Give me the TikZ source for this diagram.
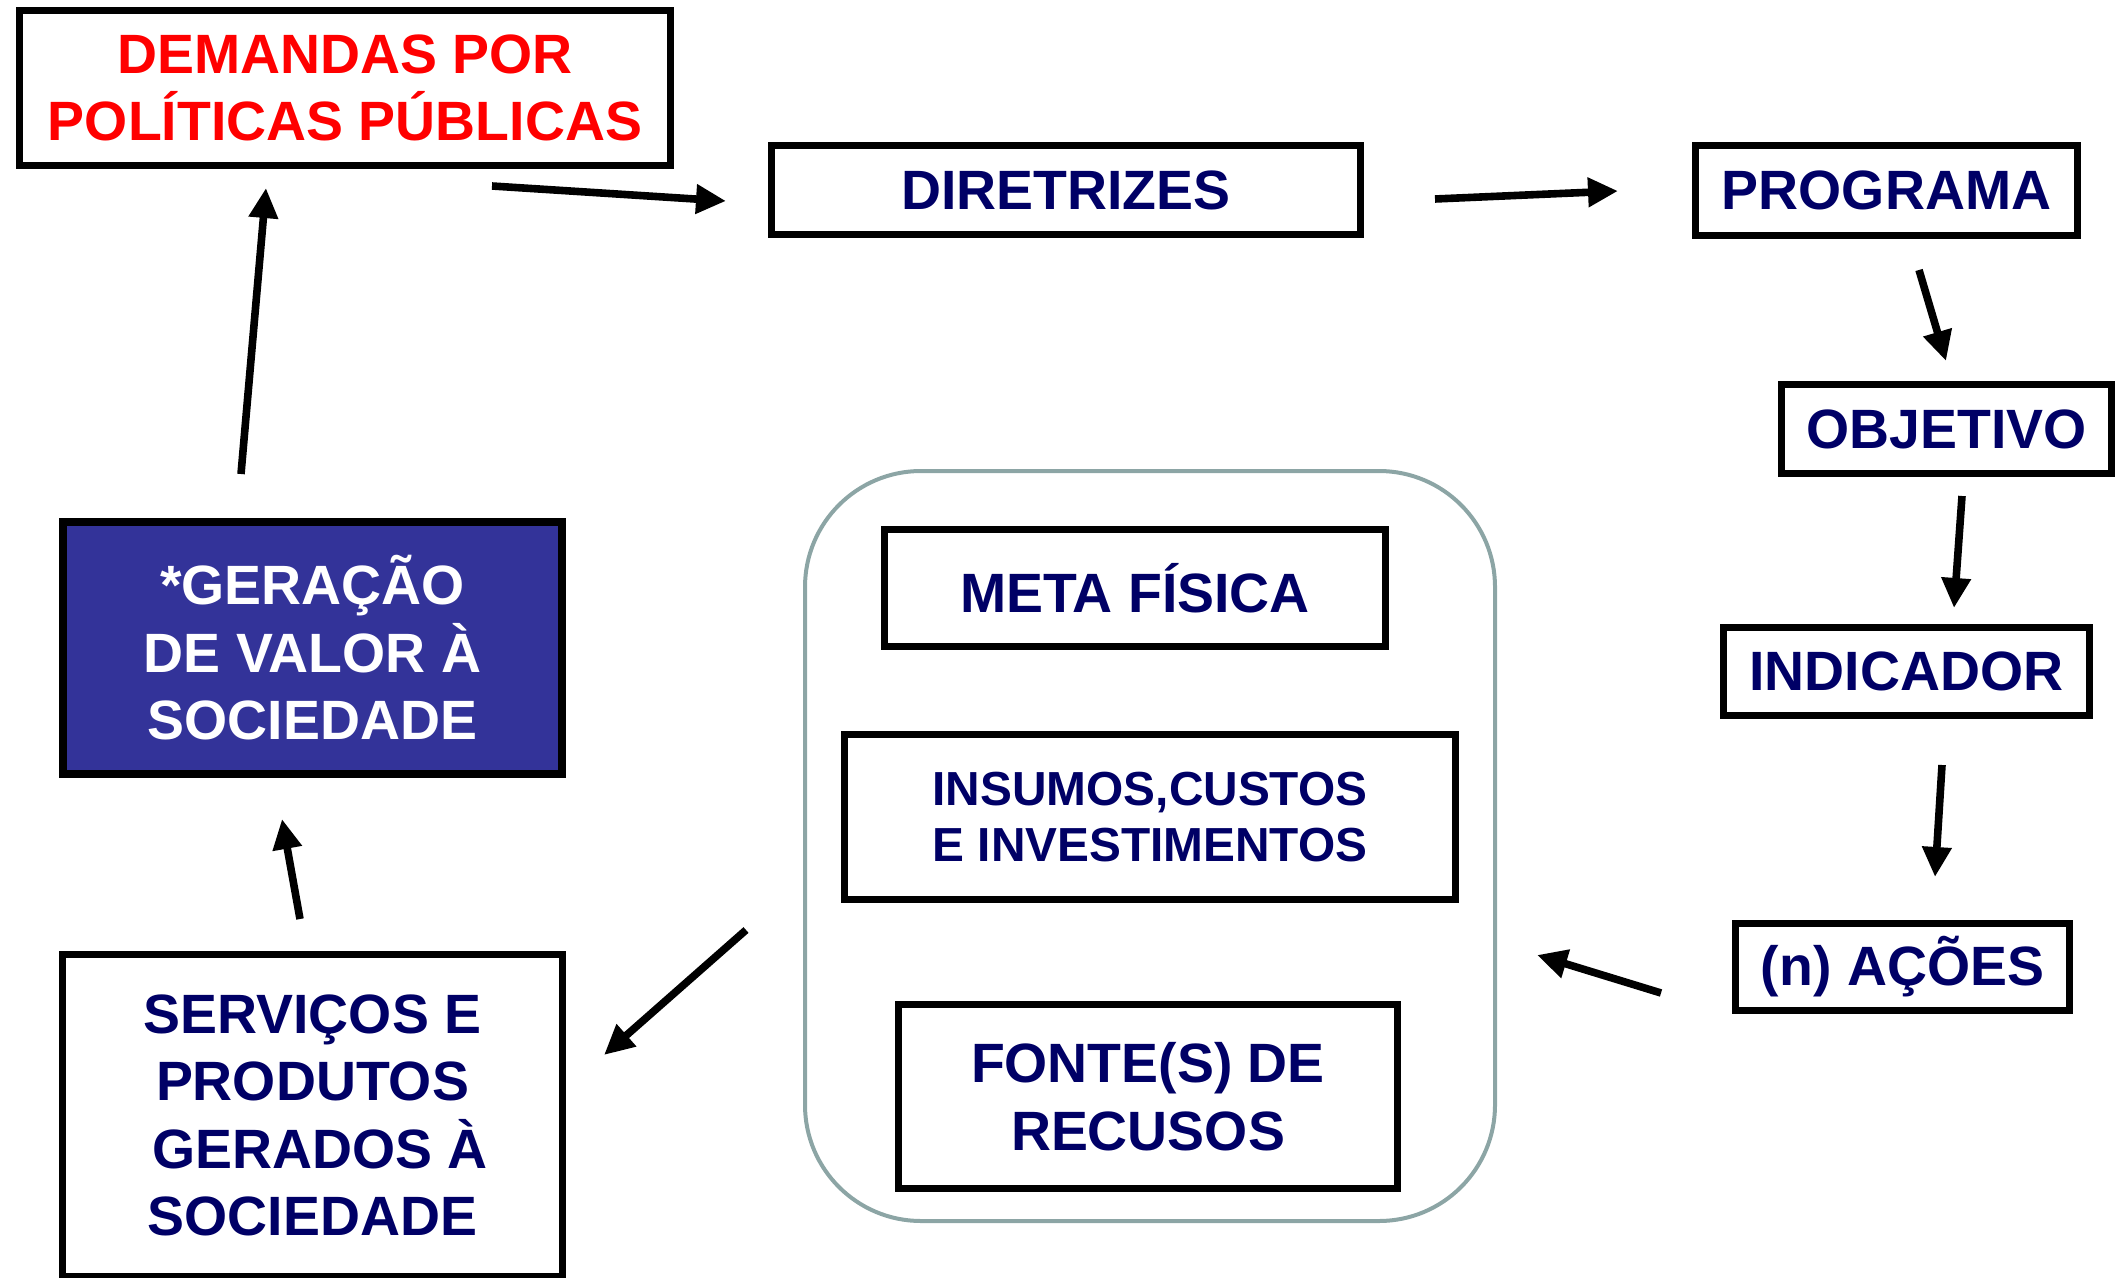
\documentclass[tikz,border=0pt]{standalone}
\usepackage{fontspec}
\setmainfont{Liberation Sans}
\usetikzlibrary{arrows.meta}
\definecolor{navy}{RGB}{0,0,102}
\definecolor{myred}{RGB}{255,0,0}
\definecolor{valblue}{RGB}{51,51,153}
\definecolor{contgray}{RGB}{140,165,165}
\begin{document}
\begin{tikzpicture}[x=0.5pt,y=-0.5pt,
  box/.style={draw=black,line width=3.5pt,inner sep=0pt,align=center,
    font=\bfseries\fontsize{27.7}{33.8}\selectfont,text=navy},
  flow/.style={line width=3.8pt,-{Triangle[length=15pt,width=14pt]}}]
\useasboundingbox (0,0) rectangle (2119,1278);
% container
\node[draw=contgray,line width=2pt,rounded corners=58pt,minimum width=345pt,minimum height=375pt,inner sep=0pt] (cont) at (1150,846) {};
% boxes
\node[box,text=myred,minimum width=325.5pt,minimum height=77.5pt] (dem) at (345,88) {DEMANDAS POR\\POLÍTICAS PÚBLICAS};
\node[box,minimum width=294.5pt,minimum height=44.5pt] (dir) at (1066,190) {DIRETRIZES};
\node[box,minimum width=191pt,minimum height=45pt] (prog) at (1886.5,190.5) {PROGRAMA};
\node[box,minimum width=165pt,minimum height=44.5pt] (obj) at (1946.5,429) {OBJETIVO};
\node[box,minimum width=183pt,minimum height=44pt] (ind) at (1906.5,671.5) {INDICADOR};
\node[box,minimum width=167pt,minimum height=43.5pt] (acoes) at (1902.5,967) {(n) AÇÕES};
\node[box,fill=valblue,text=white,line width=4pt,minimum width=249.5pt,minimum height=126pt] (ger) at (312.5,648) {*GERAÇÃO\\DE VALOR À\\SOCIEDADE};
\node[box,minimum width=250pt,minimum height=161pt] (serv) at (312.5,1115.5) {SERVIÇOS E\\PRODUTOS\\\hspace*{7.7pt}GERADOS À\\SOCIEDADE};
\node[box,minimum width=250.5pt,minimum height=58.5pt] (meta) at (1135,588) {META FÍSICA};
\node[box,font=\bfseries\fontsize{23.9}{28.4}\selectfont,minimum width=305.5pt,minimum height=82.5pt] (ins) at (1150,817) {INSUMOS,CUSTOS\\E INVESTIMENTOS};
\node[box,minimum width=249.5pt,minimum height=92pt] (fonte) at (1148,1096.5) {FONTE(S) DE\\RECUSOS};
% arrow end points
\coordinate (a1s) at (492,186);  \coordinate (a1e) at (726,201);
\coordinate (a2s) at (1435,199); \coordinate (a2e) at (1618,191);
\coordinate (a3s) at (1919,270); \coordinate (a3e) at (1946,361);
\coordinate (a4s) at (1962,496); \coordinate (a4e) at (1954,608);
\coordinate (a5s) at (1942,765); \coordinate (a5e) at (1935,877);
\coordinate (a6s) at (1661,993); \coordinate (a6e) at (1537,955);
\coordinate (a7s) at (746,930);  \coordinate (a7e) at (604,1055);
\coordinate (a8s) at (300,919);  \coordinate (a8e) at (282,819);
\coordinate (a9s) at (241,474);  \coordinate (a9e) at (266,188);
\draw[flow] (a1s) -- (a1e);
\draw[flow] (a2s) -- (a2e);
\draw[flow] (a3s) -- (a3e);
\draw[flow] (a4s) -- (a4e);
\draw[flow] (a5s) -- (a5e);
\draw[flow] (a6s) -- (a6e);
\draw[flow] (a7s) -- (a7e);
\draw[flow] (a8s) -- (a8e);
\draw[flow] (a9s) -- (a9e);
\end{tikzpicture}
\end{document}
